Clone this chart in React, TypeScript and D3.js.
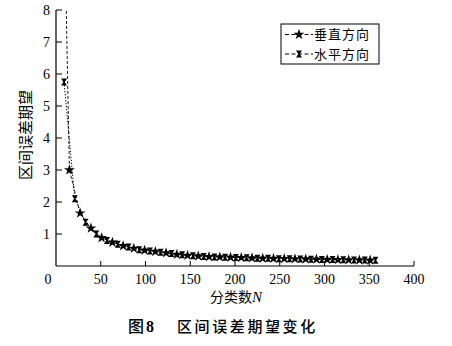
import React from "react";
import * as d3 from "d3";

// 垂直方向 (star markers)
const vertN = [3, 15, 27, 39, 51, 63, 75, 87, 99, 111, 123, 135, 147, 159, 171, 183, 195, 207, 219, 231, 243, 255, 267, 279, 291, 303, 315, 327, 339, 351];
const vertV = [20, 3.0, 1.65, 1.18, 0.88, 0.74, 0.63, 0.55, 0.49, 0.45, 0.41, 0.36, 0.33, 0.31, 0.29, 0.28, 0.27, 0.26, 0.25, 0.24, 0.235, 0.23, 0.22, 0.215, 0.21, 0.2, 0.195, 0.19, 0.185, 0.18];
// 水平方向 (hourglass markers)
const horN = [9, 21, 33, 45, 57, 69, 81, 93, 105, 117, 129, 141, 153, 165, 177, 189, 201, 213, 225, 237, 249, 261, 273, 285, 297, 309, 321, 333, 345, 357];
const horV = [5.75, 2.1, 1.37, 1.0, 0.8, 0.68, 0.59, 0.51, 0.47, 0.43, 0.39, 0.35, 0.32, 0.3, 0.285, 0.275, 0.265, 0.255, 0.245, 0.24, 0.23, 0.225, 0.22, 0.21, 0.205, 0.2, 0.195, 0.19, 0.185, 0.18];

const xTicks = [0, 50, 100, 150, 200, 250, 300, 350, 400];
const yTicks = [1, 2, 3, 4, 5, 6, 7, 8];
const seriesNames = ["垂直方向", "水平方向"];
const xTitle = "分类数";
const yTitle = "区间误差期望";
const captionNum = "图8";
const captionText = "区间误差期望变化";

const x = d3.scaleLinear().domain([0, 400]).range([56, 414]);
const y = d3.scaleLinear().domain([0, 8]).range([266, 10]);

const starPath = d3.symbol().type(d3.symbolStar).size(36)() as string;
const hourglass = "M-3,-3.5H3L0.7,0L3,3.5H-3L-0.7,0Z";

export default function App() {
  const vert = vertN.map((n, i) => [n, vertV[i]] as [number, number]);
  const hor = horN.map((n, i) => [n, horV[i]] as [number, number]);
  const line = d3.line<[number, number]>().x(d => x(d[0])).y(d => y(d[1]));
  const serif = "'Liberation Serif', 'DejaVu Serif', serif";
  const cjk = "'Noto Sans CJK SC', sans-serif";
  const rows = [34.5, 54];
  return (
    <svg width={452} height={346} style={{ position: "absolute", left: 0, top: 0, background: "#fff" }}>
      <defs>
        <clipPath id="plot">
          <rect x={56} y={10} width={360} height={258} />
        </clipPath>
      </defs>
      {/* axes */}
      <line x1={56} x2={56} y1={y(8)} y2={y(0)} stroke="#000" strokeWidth={1.2} />
      <line x1={56} x2={x(400)} y1={y(0)} y2={y(0)} stroke="#000" strokeWidth={1.2} />
      {yTicks.map(t => (
        <g key={"y" + t}>
          <line x1={56} x2={62} y1={y(t)} y2={y(t)} stroke="#000" strokeWidth={1} />
          <text x={50} y={y(t)} dy="0.35em" textAnchor="end" fontFamily={serif} fontSize={14}>{t}</text>
        </g>
      ))}
      {xTicks.map(t => (
        <g key={"x" + t}>
          {t > 0 && <line x1={x(t)} x2={x(t)} y1={y(0)} y2={y(0) - 5} stroke="#000" strokeWidth={1} />}
          <text x={t === 0 ? x(t) - 8 : x(t)} y={284} textAnchor="middle" fontFamily={serif} fontSize={14}>{t}</text>
        </g>
      ))}
      {/* series */}
      <g clipPath="url(#plot)">
        <path d={line(vert) as string} fill="none" stroke="#000" strokeWidth={0.9} strokeDasharray="3,2" />
        <path d={line(hor) as string} fill="none" stroke="#000" strokeWidth={0.9} strokeDasharray="1.5,1.5" />
        {vert.map((d, i) => (
          <path key={"s" + i} d={starPath} transform={`translate(${x(d[0])},${y(d[1])})`} fill="#000" />
        ))}
        {hor.map((d, i) => (
          <path key={"h" + i} d={hourglass} transform={`translate(${x(d[0])},${y(d[1])})`} fill="#000" />
        ))}
      </g>
      {/* legend */}
      <rect x={281} y={24} width={98} height={40} fill="#fff" stroke="#000" strokeWidth={1} />
      <line x1={285} x2={313} y1={rows[0]} y2={rows[0]} stroke="#000" strokeWidth={1} strokeDasharray="4,2.5" />
      <path d={starPath} transform={`translate(299,${rows[0]})`} fill="#000" />
      <text x={314} y={rows[0]} dy="0.36em" fontFamily={cjk} fontSize={13} letterSpacing={1}>{seriesNames[0]}</text>
      <line x1={285} x2={313} y1={rows[1]} y2={rows[1]} stroke="#000" strokeWidth={1} strokeDasharray="4,2.5" />
      <path d={hourglass} transform={`translate(299,${rows[1]})`} fill="#000" />
      <text x={314} y={rows[1]} dy="0.36em" fontFamily={cjk} fontSize={13} letterSpacing={1}>{seriesNames[1]}</text>
      {/* titles */}
      <text transform="translate(31,135) rotate(-90)" textAnchor="middle" fontFamily={cjk} fontSize={15}>{yTitle}</text>
      <text x={236} y={302} textAnchor="middle">
        <tspan fontFamily={cjk} fontSize={14}>{xTitle}</tspan>
        <tspan fontFamily={serif} fontStyle="italic" fontSize={15}>N</tspan>
      </text>
      <text x={128} y={332} fontFamily={serif} fontWeight="bold" fontSize={16}>
        <tspan fontFamily={cjk} fontWeight={500}>{captionNum.slice(0, 1)}</tspan>
        <tspan dx={2}>{captionNum.slice(1)}</tspan>
      </text>
      <text x={177} y={332} fontFamily={cjk} fontWeight={500} fontSize={15} letterSpacing={2.6}>{captionText}</text>
    </svg>
  );
}
